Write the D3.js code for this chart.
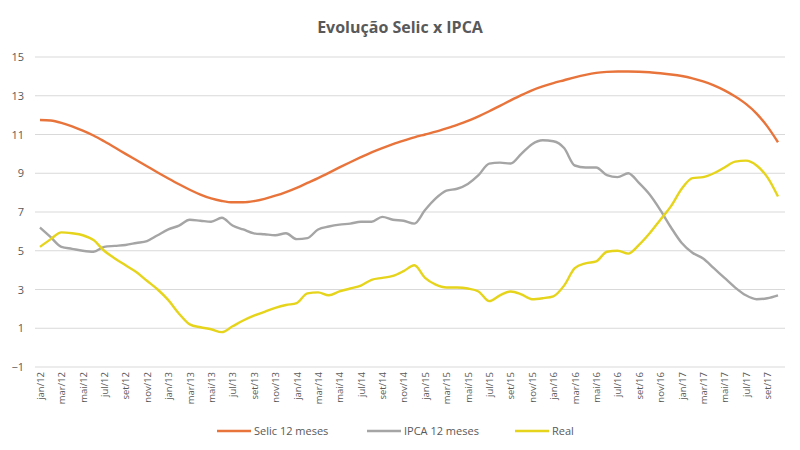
<!DOCTYPE html>
<html>
<head>
<meta charset="utf-8">
<script src="https://cdn.jsdelivr.net/npm/d3@7"></script>
<style>
  body { margin: 0; background: #fff; }
  text { font-family: "Open Sans", "Noto Sans", sans-serif; }
</style>
</head>
<body>
<svg id="chart" width="800" height="450"></svg>
<script>
// Monthly data, jan/12 to out/17
const monthNames = ["jan", "fev", "mar", "abr", "mai", "jun", "jul", "ago", "set", "out", "nov", "dez"];
const months = [];
for (let y = 12; y <= 17; y++) {
    monthNames.forEach((m, k) => {
        if (y === 17 && k > 9) return;
        months.push(`${m}/${y}`);
    });
}

const selic = [11.75, 11.72, 11.6, 11.42, 11.2, 10.95, 10.65, 10.33, 10.0, 9.68,
    9.36, 9.04, 8.73, 8.43, 8.15, 7.9, 7.7, 7.57, 7.5, 7.5,
    7.56, 7.68, 7.84, 8.03, 8.25, 8.5, 8.75, 9.02, 9.3, 9.57,
    9.83, 10.08, 10.3, 10.5, 10.68, 10.85, 11.0, 11.15, 11.32, 11.5,
    11.7, 11.94, 12.2, 12.48, 12.76, 13.03, 13.28, 13.48, 13.65, 13.8,
    13.95, 14.08, 14.18, 14.23, 14.25, 14.25, 14.24, 14.21, 14.16, 14.1,
    14.02, 13.9, 13.74, 13.54, 13.28, 12.96, 12.58, 12.08, 11.42, 10.6];

const ipca = [6.2, 5.7, 5.2, 5.1, 5.0, 4.95, 5.2, 5.25, 5.3, 5.4,
    5.5, 5.8, 6.1, 6.3, 6.6, 6.55, 6.5, 6.7, 6.3, 6.1,
    5.9, 5.85, 5.8, 5.9, 5.6, 5.65, 6.1, 6.25, 6.35, 6.4,
    6.5, 6.5, 6.75, 6.6, 6.55, 6.4, 7.1, 7.7, 8.1, 8.2,
    8.45, 8.9, 9.5, 9.55, 9.5, 10.0, 10.5, 10.7, 10.65, 10.3,
    9.4, 9.3, 9.3, 8.9, 8.8, 9.0, 8.5, 7.9, 7.1, 6.2,
    5.4, 4.9, 4.6, 4.1, 3.6, 3.1, 2.7, 2.5, 2.55, 2.7];

const real = [5.2, 5.6, 5.95, 5.9, 5.8, 5.55, 5.0, 4.6, 4.25, 3.9,
    3.45, 3.0, 2.45, 1.75, 1.2, 1.05, 0.95, 0.8, 1.1, 1.4,
    1.65, 1.85, 2.05, 2.2, 2.3, 2.8, 2.85, 2.7, 2.9, 3.05,
    3.2, 3.5, 3.6, 3.7, 3.95, 4.25, 3.6, 3.25, 3.1, 3.1,
    3.05, 2.9, 2.4, 2.7, 2.9, 2.75, 2.5, 2.55, 2.65, 3.2,
    4.1, 4.35, 4.45, 4.95, 5.0, 4.85, 5.3, 5.9, 6.6, 7.3,
    8.2, 8.75, 8.8, 9.0, 9.3, 9.6, 9.65, 9.4, 8.8, 7.8];

const yTicks = [-1, 1, 3, 5, 7, 9, 11, 13, 15];

const series = [
    { name: "Selic 12 meses", values: selic, color: "#e8743b" },
    { name: "IPCA 12 meses", values: ipca, color: "#a5a5a5" },
    { name: "Real", values: real, color: "#e6d41c" }
];

const svg = d3.select("#chart");

const x = d3.scalePoint().domain(months).range([40, 778]);
const y = d3.scaleLinear().domain([-1, 15]).range([367, 57]);

// title
svg.append("text")
    .attr("x", 400)
    .attr("y", 33)
    .attr("text-anchor", "middle")
    .style("font-size", "16px")
    .style("font-weight", "bold")
    .style("fill", "#595959")
    .text("Evolução Selic x IPCA");

// gridlines
svg.append("g").selectAll("line")
    .data(yTicks)
    .join("line")
    .attr("x1", 35)
    .attr("x2", 785)
    .attr("y1", d => y(d))
    .attr("y2", d => y(d))
    .attr("stroke", "#d9d9d9")
    .attr("stroke-width", 1);

// y axis labels
const yAxis = svg.append("g")
    .attr("transform", "translate(26,0)")
    .call(d3.axisLeft(y).tickValues(yTicks).tickSize(0).tickPadding(2));
yAxis.select(".domain").remove();
yAxis.selectAll("text")
    .style("font-size", "11px")
    .style("fill", "#595959");

// x axis labels, every other month
const xAxis = svg.append("g")
    .attr("transform", "translate(0,370)")
    .call(d3.axisBottom(x).tickValues(months.filter((d, i) => i % 2 === 0)).tickSize(0).tickPadding(0));
xAxis.select(".domain").remove();
xAxis.selectAll("text")
    .attr("transform", "rotate(-90)")
    .attr("text-anchor", "end")
    .attr("x", -2)
    .attr("y", 0)
    .attr("dy", "0.35em")
    .style("font-size", "9.5px")
    .style("fill", "#595959");

// lines
const line = d3.line()
    .x((d, i) => x(months[i]))
    .y(d => y(d))
    .curve(d3.curveMonotoneX);

svg.append("g").selectAll("path")
    .data(series)
    .join("path")
    .attr("d", d => line(d.values))
    .attr("fill", "none")
    .attr("stroke", d => d.color)
    .attr("stroke-width", 2.4)
    .attr("stroke-linejoin", "round");

// legend
const legendX = [217, 367, 515];
const legend = svg.append("g").selectAll("g")
    .data(series)
    .join("g")
    .attr("transform", (d, i) => `translate(${legendX[i]},431)`);

legend.append("line")
    .attr("x1", 0)
    .attr("x2", 34)
    .attr("stroke", d => d.color)
    .attr("stroke-width", 2.4);

legend.append("text")
    .attr("x", 37)
    .attr("dy", "0.35em")
    .style("font-size", "11px")
    .style("fill", "#595959")
    .text(d => d.name);
</script>
</body>
</html>
